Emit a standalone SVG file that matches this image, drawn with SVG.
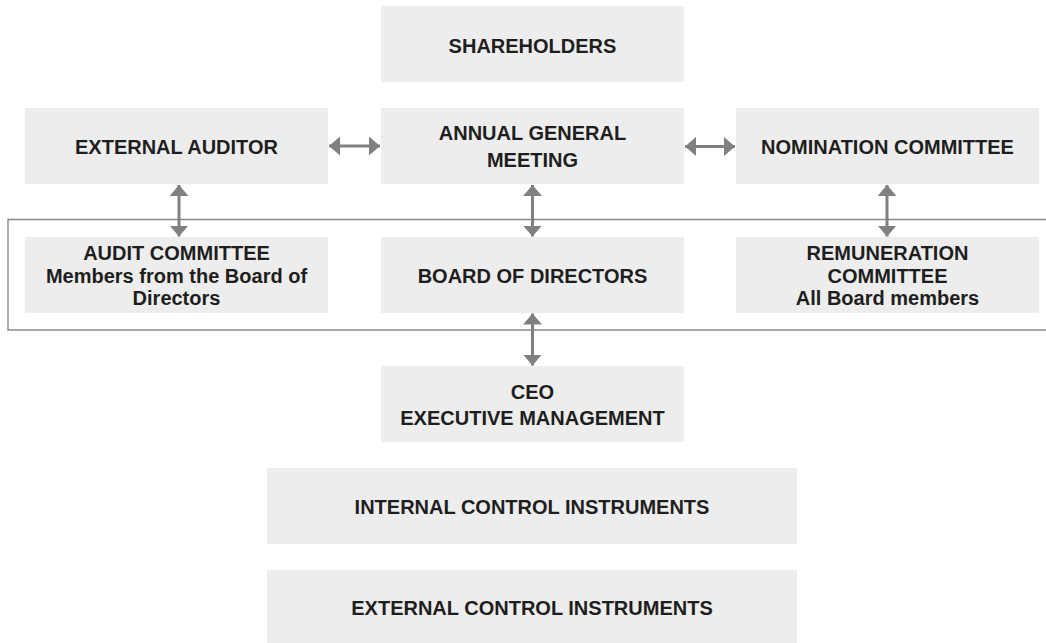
<svg xmlns="http://www.w3.org/2000/svg" width="1046" height="643" viewBox="0 0 1046 643">
<defs>
<style>
.box{fill:#ededed}
.t{font-family:"Liberation Sans",Arial,sans-serif;font-weight:bold;font-size:20px;fill:#1e1e1e;text-anchor:middle}
.ln{stroke:#808080;stroke-width:3;fill:none}
.frame{stroke:#8a8a8a;stroke-width:1.4;fill:none}
.hd{fill:#808080}
</style>
<marker id="ah" viewBox="0 0 11 19" refX="11" refY="9.5" markerWidth="11" markerHeight="19" markerUnits="userSpaceOnUse" orient="auto-start-reverse">
<path class="hd" d="M0,0 L11,9.5 L0,19 Z"/>
</marker>
</defs>
<rect width="1046" height="643" fill="#ffffff"/>
<path class="frame" d="M1047,219.5 H8 V330 H1047"/>
<g id="shareholders"><rect class="box" x="381" y="6" width="303" height="76"/><text class="t" x="532.5" y="52.5">SHAREHOLDERS</text></g>
<g id="external-auditor"><rect class="box" x="25" y="108" width="303" height="76"/><text class="t" x="176.5" y="154">EXTERNAL AUDITOR</text></g>
<g id="agm"><rect class="box" x="381" y="108" width="303" height="76"/><text class="t" x="532.5" y="140">ANNUAL GENERAL</text><text class="t" x="532.5" y="166.5">MEETING</text></g>
<g id="nomination"><rect class="box" x="736" y="108" width="303" height="76"/><text class="t" x="887.5" y="154">NOMINATION COMMITTEE</text></g>
<g id="audit-committee"><rect class="box" x="25" y="237" width="303" height="76"/><text class="t" x="176.5" y="260">AUDIT COMMITTEE</text><text class="t" x="176.5" y="282.5">Members from the Board of</text><text class="t" x="176.5" y="305">Directors</text></g>
<g id="board"><rect class="box" x="381" y="237" width="303" height="76"/><text class="t" x="532.5" y="282.5">BOARD OF DIRECTORS</text></g>
<g id="remuneration"><rect class="box" x="736" y="237" width="303" height="76"/><text class="t" x="887.5" y="260">REMUNERATION</text><text class="t" x="887.5" y="282.5">COMMITTEE</text><text class="t" x="887.5" y="305">All Board members</text></g>
<g id="ceo"><rect class="box" x="381" y="366" width="303" height="76"/><text class="t" x="532.5" y="398.5">CEO</text><text class="t" x="532.5" y="424.5">EXECUTIVE MANAGEMENT</text></g>
<g id="internal-control"><rect class="box" x="267" y="468" width="530" height="76"/><text class="t" x="532" y="513.5">INTERNAL CONTROL INSTRUMENTS</text></g>
<g id="external-control"><rect class="box" x="267" y="570" width="530" height="76"/><text class="t" x="532" y="615">EXTERNAL CONTROL INSTRUMENTS</text></g>
<g id="connectors">
<line class="ln" x1="329" y1="146" x2="380" y2="146" marker-start="url(#ah)" marker-end="url(#ah)"/>
<line class="ln" x1="685" y1="146.5" x2="735" y2="146.5" marker-start="url(#ah)" marker-end="url(#ah)"/>
<line class="ln" x1="179" y1="185" x2="179" y2="236.5" marker-start="url(#ah)" marker-end="url(#ah)"/>
<line class="ln" x1="532.5" y1="185" x2="532.5" y2="236.5" marker-start="url(#ah)" marker-end="url(#ah)"/>
<line class="ln" x1="887" y1="185" x2="887" y2="236.5" marker-start="url(#ah)" marker-end="url(#ah)"/>
<line class="ln" x1="532.5" y1="313.5" x2="532.5" y2="365.5" marker-start="url(#ah)" marker-end="url(#ah)"/>
</g>
</svg>
